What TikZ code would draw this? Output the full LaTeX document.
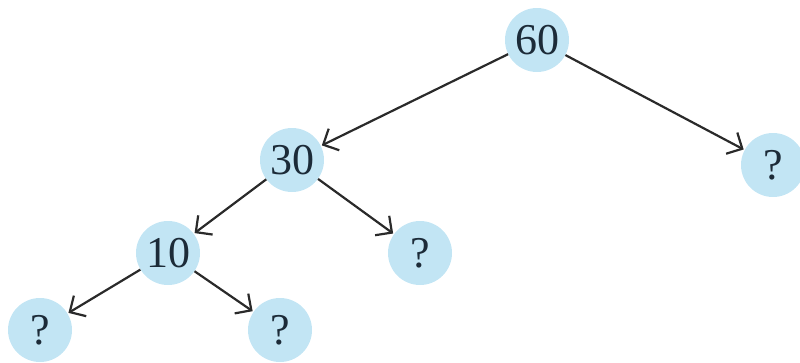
\documentclass[tikz,border=0pt]{standalone}
\usepackage{fontspec}
\setmainfont{Liberation Serif}
\usetikzlibrary{arrows.meta}
\definecolor{nodefill}{HTML}{C2E5F4}
\definecolor{edgecol}{HTML}{2A2A2A}
\definecolor{labelcol}{HTML}{1C2B38}
\tikzset{
  tnode/.style={circle, fill=nodefill, minimum size=64pt, inner sep=0pt,
    font=\fontsize{44}{44}\selectfont, text=labelcol},
  tedge/.style={draw=edgecol, line width=2.2pt,
    -{Straight Barb[length=12pt,width=24pt,line width=2.2pt]}, shorten >=1pt}
}
\begin{document}
\begin{tikzpicture}[x=1pt,y=-1pt]
  \useasboundingbox (0,0) rectangle (800,362);
  \node[tnode] (n60) at (537,40) {60};
  \node[tnode] (n30) at (292,160) {30};
  \node[tnode] (qr)  at (773,165) {?};
  \node[tnode] (n10) at (168,253) {10};
  \node[tnode] (qm)  at (420,253) {?};
  \node[tnode] (qll) at (40,330) {?};
  \node[tnode] (qlr) at (280,330) {?};
  \draw[tedge] (n60) -- (n30);
  \draw[tedge] (n60) -- (qr);
  \draw[tedge] (n30) -- (n10);
  \draw[tedge] (n30) -- (qm);
  \draw[tedge] (n10) -- (qll);
  \draw[tedge] (n10) -- (qlr);
\end{tikzpicture}
\end{document}
